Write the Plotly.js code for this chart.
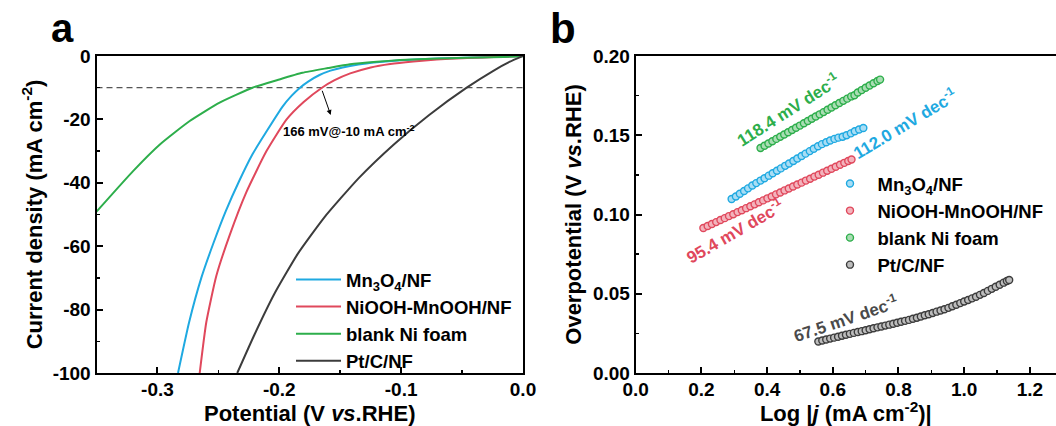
<!DOCTYPE html>
<html>
<head>
<meta charset="utf-8">
<script src="https://cdn.plot.ly/plotly-3.0.1.min.js"></script>
<style>
html,body{margin:0;padding:0;background:#fff;}
#chart{width:1056px;height:426px;}
</style>
</head>
<body>
<div id="chart"></div>
<script>
// ---------- Panel a: LSV curves ----------
const seriesNames = ["Mn<sub>3</sub>O<sub>4</sub>/NF", "NiOOH-MnOOH/NF", "blank Ni foam", "Pt/C/NF"];

const lsvMnX = [-0.2831, -0.274, -0.264, -0.254, -0.244, -0.233, -0.222, -0.210, -0.197, -0.190, -0.183, -0.176, -0.167, -0.158, -0.148, -0.135, -0.120, -0.100, -0.070, -0.040, -0.016, 0];
const lsvMnY = [-100, -84, -70, -59, -49, -39.5, -31, -23.5, -15.8, -12.6, -10, -8.0, -6.0, -4.6, -3.6, -2.7, -2.0, -1.35, -0.8, -0.45, -0.25, 0];

const lsvNiX = [-0.2653, -0.2599, -0.2517, -0.2407, -0.2271, -0.2105, -0.194, -0.180, -0.165, -0.155, -0.1418, -0.125, -0.109, -0.090, -0.0708, -0.050, -0.0326, -0.015, 0];
const lsvNiY = [-100, -84, -69.4, -56.5, -43, -30, -20, -14.5, -10, -7.7, -5.5, -3.6, -2.5, -1.7, -1.1, -0.7, -0.45, -0.2, 0];

const lsvBlankX = [-0.350, -0.320, -0.298, -0.2735, -0.249, -0.222, -0.200, -0.181, -0.160, -0.142, -0.120, -0.101, -0.080, -0.059, -0.035, -0.016, 0];
const lsvBlankY = [-49.1, -36.3, -27.9, -20.5, -14.7, -10.0, -7.4, -5.3, -3.8, -2.6, -1.8, -1.3, -0.95, -0.7, -0.45, -0.3, -0.1];

const lsvPtX = [-0.2345, -0.2205, -0.204, -0.185, -0.163, -0.135, -0.106, -0.077, -0.0462, -0.024, -0.0107, 0];
const lsvPtY = [-100, -88, -75, -62.5, -50.9, -38.6, -27.9, -18.6, -10, -4.6, -1.8, 0];

const refCurrent = -10;           // dashed reference line
const arrowTail = [-0.1652, -10.5];
const arrowTip = [-0.1578, -18.6];
const noteA = "166 mV@-10 mA cm<sup>-2</sup>";

const axATickVals = [-0.3, -0.2, -0.1, 0];
const axATickText = ["-0.3", "-0.2", "-0.1", "0.0"];
const ayATickVals = [0, -20, -40, -60, -80, -100];
const ayATickText = ["0", "-20", "-40", "-60", "-80", "-100"];

// ---------- Panel b: Tafel plots ----------
const tafMnX = [0.292, 0.305, 0.317, 0.330, 0.342, 0.355, 0.367, 0.380, 0.392, 0.405, 0.417, 0.430, 0.442, 0.455, 0.467, 0.480, 0.492, 0.505, 0.517, 0.530, 0.542, 0.555, 0.567, 0.580, 0.592, 0.605, 0.617, 0.630, 0.642, 0.655, 0.667, 0.680, 0.693];
const tafMnY = [0.1098, 0.1114, 0.1131, 0.1148, 0.1165, 0.1183, 0.1198, 0.1214, 0.1229, 0.1245, 0.1260, 0.1276, 0.1291, 0.1307, 0.1322, 0.1338, 0.1353, 0.1369, 0.1384, 0.1400, 0.1415, 0.1431, 0.1444, 0.1456, 0.1467, 0.1477, 0.1485, 0.1491, 0.1500, 0.1512, 0.1525, 0.1536, 0.1546];

const tafNiX = [0.206, 0.219, 0.232, 0.245, 0.258, 0.271, 0.284, 0.297, 0.310, 0.323, 0.336, 0.349, 0.362, 0.375, 0.388, 0.401, 0.414, 0.427, 0.440, 0.453, 0.466, 0.479, 0.492, 0.505, 0.518, 0.531, 0.544, 0.557, 0.570, 0.583, 0.596, 0.609, 0.622, 0.635, 0.647, 0.657];
const tafNiY = [0.0915, 0.0927, 0.0940, 0.0952, 0.0965, 0.0977, 0.0990, 0.1002, 0.1015, 0.1027, 0.1040, 0.1052, 0.1064, 0.1077, 0.1089, 0.1102, 0.1114, 0.1127, 0.1139, 0.1152, 0.1164, 0.1177, 0.1189, 0.1201, 0.1214, 0.1226, 0.1239, 0.1251, 0.1264, 0.1276, 0.1289, 0.1301, 0.1314, 0.1326, 0.1338, 0.1347];

const tafBlankX = [0.380, 0.392, 0.404, 0.416, 0.428, 0.440, 0.452, 0.464, 0.476, 0.488, 0.500, 0.512, 0.524, 0.536, 0.548, 0.560, 0.572, 0.584, 0.596, 0.608, 0.620, 0.632, 0.644, 0.656, 0.666, 0.676, 0.688, 0.700, 0.712, 0.724, 0.736, 0.744];
const tafBlankY = [0.1420, 0.1434, 0.1448, 0.1462, 0.1477, 0.1491, 0.1505, 0.1519, 0.1533, 0.1547, 0.1561, 0.1576, 0.1590, 0.1604, 0.1618, 0.1632, 0.1646, 0.1661, 0.1675, 0.1689, 0.1703, 0.1717, 0.1731, 0.1745, 0.1752, 0.1770, 0.1785, 0.1800, 0.1814, 0.1828, 0.1842, 0.1851];

const tafPtX = [0.556, 0.568, 0.580, 0.592, 0.604, 0.616, 0.628, 0.640, 0.652, 0.664, 0.676, 0.688, 0.700, 0.712, 0.724, 0.736, 0.748, 0.760, 0.772, 0.784, 0.796, 0.808, 0.820, 0.832, 0.844, 0.856, 0.868, 0.880, 0.892, 0.904, 0.916, 0.928, 0.940, 0.952, 0.964, 0.976, 0.988, 1.000, 1.012, 1.024, 1.036, 1.048, 1.060, 1.072, 1.084, 1.096, 1.108, 1.120, 1.130, 1.137];
const tafPtY = [0.0199, 0.0205, 0.0211, 0.0217, 0.0223, 0.0229, 0.0235, 0.0241, 0.0247, 0.0253, 0.0259, 0.0264, 0.0270, 0.0276, 0.0282, 0.0288, 0.0293, 0.0299, 0.0305, 0.0311, 0.0317, 0.0323, 0.0329, 0.0335, 0.0342, 0.0349, 0.0356, 0.0364, 0.0371, 0.0379, 0.0387, 0.0394, 0.0402, 0.0411, 0.0421, 0.0431, 0.0441, 0.0451, 0.0461, 0.0471, 0.0481, 0.0493, 0.0505, 0.0518, 0.0531, 0.0544, 0.0557, 0.0570, 0.0580, 0.0587];

const slopeLabels = ["112.0 mV dec<sup>-1</sup>", "95.4 mV dec<sup>-1</sup>", "118.4 mV dec<sup>-1</sup>", "67.5 mV dec<sup>-1</sup>"];
const slopeLabelX = [0.8198, 0.2993, 0.4646, 0.639];
const slopeLabelY = [0.1576, 0.0899, 0.1665, 0.0347];
const slopeLabelAngle = [-31, -30, -32.5, -18.7];

const bxTickVals = [0, 0.2, 0.4, 0.6, 0.8, 1.0, 1.2];
const bxTickText = ["0.0", "0.2", "0.4", "0.6", "0.8", "1.0", "1.2"];
const byTickVals = [0, 0.05, 0.10, 0.15, 0.20];
const byTickText = ["0.00", "0.05", "0.10", "0.15", "0.20"];

// ---------- styling ----------
const colors = ["#1FA9E1", "#E0485C", "#2DAE4B", "#3C3C3C"];
const fills = ["#A8DDF4", "#F3B3BC", "#A9DDB3", "#BDBDBD"];
const FONT = "Liberation Sans, Arial, Helvetica, sans-serif";
const W = 1056, H = 426;
const px = v => v / W, py = v => 1 - v / H;

const lsvX = [lsvMnX, lsvNiX, lsvBlankX, lsvPtX];
const lsvY = [lsvMnY, lsvNiY, lsvBlankY, lsvPtY];
const tafX = [tafMnX, tafNiX, tafBlankX, tafPtX];
const tafY = [tafMnY, tafNiY, tafBlankY, tafPtY];

const traces = [];
for (let i = 0; i < 4; i++) {
  traces.push({
    type: "scatter", mode: "lines", x: lsvX[i], y: lsvY[i], name: seriesNames[i],
    xaxis: "x", yaxis: "y", legend: "legend",
    line: {color: colors[i], width: 2, shape: "spline", smoothing: 0.5},
    hoverinfo: "skip"
  });
}
for (let i = 0; i < 4; i++) {
  traces.push({
    type: "scatter", mode: "markers", x: tafX[i], y: tafY[i], name: seriesNames[i],
    xaxis: "x2", yaxis: "y2", legend: "legend2",
    marker: {symbol: "circle", size: 7, color: fills[i], line: {color: colors[i], width: 1.4}},
    hoverinfo: "skip"
  });
}

const tickFont = {family: FONT, size: 19, color: "#000", weight: "bold"};
const titleFont = {family: FONT, size: 22, color: "#000", weight: "bold"};
const baseAxis = {
  showline: true, linewidth: 2, linecolor: "#000", showgrid: false, zeroline: false,
  ticks: "inside", ticklen: 6, tickwidth: 2, tickcolor: "#000", tickfont: tickFont,
  tickmode: "array", fixedrange: true
};
const minorStyle = {tickmode: "linear", tick0: 0, ticks: "inside", ticklen: 3.5, tickwidth: 1.5, tickcolor: "#000", showgrid: false};

const annotations = [
  {xref: "x", yref: "y", x: arrowTip[0], y: arrowTip[1], ax: arrowTail[0], ay: arrowTail[1],
   axref: "x", ayref: "y", text: "", showarrow: true, arrowhead: 2, arrowsize: 1, arrowwidth: 1, arrowcolor: "#000"},
  {xref: "x", yref: "y", x: -0.143, y: -23.6, text: noteA, showarrow: false,
   xanchor: "center", yanchor: "middle",
   font: {family: FONT, size: 13, color: "#000", weight: "bold"}},
  {xref: "paper", yref: "paper", x: px(62), y: py(28), text: "a", showarrow: false,
   xanchor: "center", yanchor: "middle",
   font: {family: FONT, size: 40, color: "#000", weight: "bold"}},
  {xref: "paper", yref: "paper", x: px(563), y: py(28), text: "b", showarrow: false,
   xanchor: "center", yanchor: "middle",
   font: {family: FONT, size: 42, color: "#000", weight: "bold"}}
];
for (let i = 0; i < 4; i++) {
  annotations.push({
    xref: "x2", yref: "y2", x: slopeLabelX[i], y: slopeLabelY[i], text: slopeLabels[i],
    textangle: slopeLabelAngle[i], showarrow: false, xanchor: "center", yanchor: "middle",
    font: {family: FONT, size: 17, color: i === 3 ? "#4A4A4A" : colors[i], weight: "bold"}
  });
}

const layout = {
  width: W, height: H,
  margin: {l: 0, r: 0, t: 0, b: 0},
  paper_bgcolor: "#fff", plot_bgcolor: "rgba(0,0,0,0)",
  showlegend: true,
  xaxis: Object.assign({}, baseAxis, {
    domain: [px(96.5), px(523)], range: [-0.35, 0], anchor: "y", mirror: true,
    tickvals: axATickVals, ticktext: axATickText, ticklabelstandoff: -2,
    minor: Object.assign({dtick: 0.05}, minorStyle),
    title: {text: "Potential (V <i>vs</i>.RHE)", font: titleFont}
  }),
  yaxis: Object.assign({}, baseAxis, {
    domain: [1 - 373 / H, 1 - 56 / H], range: [-100, 0], anchor: "x", mirror: true,
    tickvals: ayATickVals, ticktext: ayATickText,
    minor: Object.assign({dtick: 10}, minorStyle),
    title: {text: "Current density (mA cm<sup>-2</sup>)", font: titleFont}
  }),
  xaxis2: Object.assign({}, baseAxis, {
    domain: [px(635.7), 1], range: [0, 1.2795], anchor: "y2", mirror: true,
    tickvals: bxTickVals, ticktext: bxTickText, ticklabelstandoff: -2,
    minor: Object.assign({dtick: 0.1}, minorStyle),
    title: {text: "Log |<i>j</i> (mA cm<sup>-2</sup>)|", font: titleFont}
  }),
  yaxis2: Object.assign({}, baseAxis, {
    domain: [1 - 373 / H, 1 - 56 / H], range: [0, 0.2], anchor: "x2", mirror: false,
    tickvals: byTickVals, ticktext: byTickText,
    minor: Object.assign({dtick: 0.025}, minorStyle),
    title: {text: "Overpotential (V <i>vs</i>.RHE)", font: titleFont}
  }),
  legend: {
    x: px(291), y: py(261), xanchor: "left", yanchor: "top",
    bgcolor: "rgba(0,0,0,0)", borderwidth: 0, tracegroupgap: 0, itemwidth: 45,
    font: {family: FONT, size: 18.5, color: "#000", weight: "bold"}
  },
  legend2: {
    x: px(822.5), y: py(165), xanchor: "left", yanchor: "top",
    bgcolor: "rgba(0,0,0,0)", borderwidth: 0, tracegroupgap: 0, itemwidth: 45,
    font: {family: FONT, size: 18.5, color: "#000", weight: "bold"}
  },
  shapes: [
    {type: "line", xref: "x", yref: "y", x0: -0.35, x1: 0, y0: refCurrent, y1: refCurrent,
     line: {color: "#555", width: 1.2, dash: "6px,4px"}, layer: "below"}
  ],
  annotations: annotations
};

Plotly.newPlot("chart", traces, layout, {staticPlot: true, displayModeBar: false});
</script>
</body>
</html>
